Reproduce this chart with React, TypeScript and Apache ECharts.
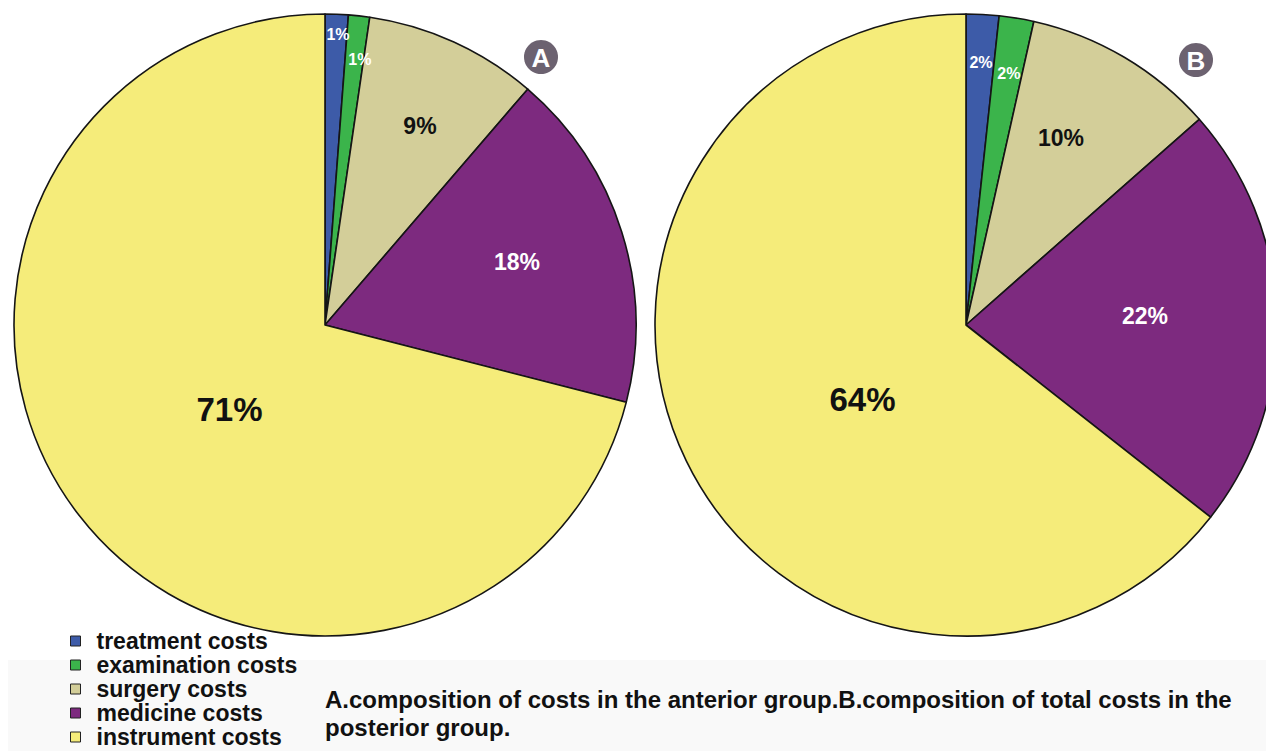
import React, { useEffect, useRef } from "react";
import * as echarts from "echarts";

const categories = [
  "treatment costs",
  "examination costs",
  "surgery costs",
  "medicine costs",
  "instrument costs",
];
const anteriorValues = [1.2, 1.1, 9.0, 17.7, 71.0];
const posteriorValues = [1.7, 1.8, 10.0, 22.1, 64.4];
const captionLines = [
  "A.composition of costs in the anterior group.B.composition of total costs in the",
  "posterior group.",
];

const COLORS = ["#3d5ba8", "#3bb44b", "#d3ce99", "#7d2a7f", "#f5ec7a"];
const LABEL_COLORS = ["#ffffff", "#ffffff", "#111111", "#ffffff", "#111111"];
const LABEL_SIZES = [16, 16, 23, 23, 33];
// radial factor and angle offset (deg) for label placement inside slices
const LABEL_PLACE_A = [
  [0.936, 0.4],
  [0.86, 1.2],
  [0.71, 1],
  [0.65, -0.8],
  [0.41, -3.7],
];
const LABEL_PLACE_B = [
  [0.846, 0.2],
  [0.82, 0.3],
  [0.675, -3.7],
  [0.576, -1.3],
  [0.41, -9.8],
];

const R = 311;
const CENTER_A = [325, 325];
const CENTER_B = [966, 325];
const FONT = "Liberation Sans, Arial, sans-serif";

function makeLayout(values: number[], place: number[][], center: number[]) {
  const total = values.reduce((a, b) => a + b, 0);
  return (params: any) => {
    const i = params.dataIndex;
    let before = 0;
    for (let k = 0; k < i; k++) before += values[k];
    const mid = ((before + values[i] / 2) / total) * 360 + place[i][1];
    const rad = (mid * Math.PI) / 180;
    const d = place[i][0] * R;
    return {
      x: center[0] + d * Math.sin(rad),
      y: center[1] - d * Math.cos(rad),
      align: "center",
      verticalAlign: "middle",
    };
  };
}

function makeSeries(values: number[], center: number[], place: number[][]) {
  return {
    type: "pie",
    center,
    radius: R,
    startAngle: 90,
    clockwise: true,
    silent: true,
    data: categories.map((name, i) => ({
      name,
      value: values[i],
      itemStyle: { color: COLORS[i] },
      label: {
        color: LABEL_COLORS[i],
        fontSize: LABEL_SIZES[i],
      },
    })),
    itemStyle: { borderColor: "#151515", borderWidth: 1.6 },
    label: {
      show: true,
      position: "inside",
      fontFamily: FONT,
      fontWeight: "bold",
      formatter: (p: any) => Math.round(p.value) + "%",
    },
    labelLine: { show: false },
    labelLayout: makeLayout(values, place, center),
  };
}

export default function App() {
  const ref = useRef<HTMLDivElement>(null);
  useEffect(() => {
    if (!ref.current) return;
    const chart = echarts.init(ref.current, null, { renderer: "svg" });
    chart.setOption({
      animation: false,
      backgroundColor: "#ffffff",
      title: {
        text: captionLines.join("\n"),
        left: 325,
        top: 685,
        padding: 0,
        textStyle: {
          fontFamily: FONT,
          fontWeight: "bold",
          fontSize: 24,
          lineHeight: 28,
          color: "#111111",
        },
      },
      legend: {
        orient: "vertical",
        left: 70,
        top: 629,
        height: 122,
        padding: 0,
        itemWidth: 10,
        itemHeight: 10,
        itemGap: 0,
        icon: "rect",
        selectedMode: false,
        data: categories,
        itemStyle: { borderColor: "#222222", borderWidth: 1 },
        textStyle: {
          fontFamily: FONT,
          fontWeight: "bold",
          fontSize: 23,
          lineHeight: 24,
          color: "#111111",
          padding: [0, 0, 0, 11],
        },
      },
      graphic: [
        {
          type: "rect",
          z: -10,
          shape: { x: 8, y: 660, width: 1258, height: 91 },
          style: { fill: "#f9f9f9" },
        },
        {
          type: "circle",
          shape: { cx: 541, cy: 57, r: 17 },
          style: { fill: "#6c6270" },
        },
        {
          type: "text",
          x: 541,
          y: 58,
          style: {
            text: "A",
            fill: "#ffffff",
            font: "bold 26px " + FONT,
            align: "center",
            verticalAlign: "middle",
          },
        },
        {
          type: "circle",
          shape: { cx: 1196, cy: 60, r: 17 },
          style: { fill: "#6c6270" },
        },
        {
          type: "text",
          x: 1196,
          y: 61,
          style: {
            text: "B",
            fill: "#ffffff",
            font: "bold 26px " + FONT,
            align: "center",
            verticalAlign: "middle",
          },
        },
      ],
      series: [
        makeSeries(anteriorValues, CENTER_A, LABEL_PLACE_A),
        makeSeries(posteriorValues, CENTER_B, LABEL_PLACE_B),
      ],
    });
    return () => chart.dispose();
  }, []);
  return (
    <div
      ref={ref}
      style={{ position: "absolute", left: 0, top: 0, width: 1266, height: 751 }}
    />
  );
}
